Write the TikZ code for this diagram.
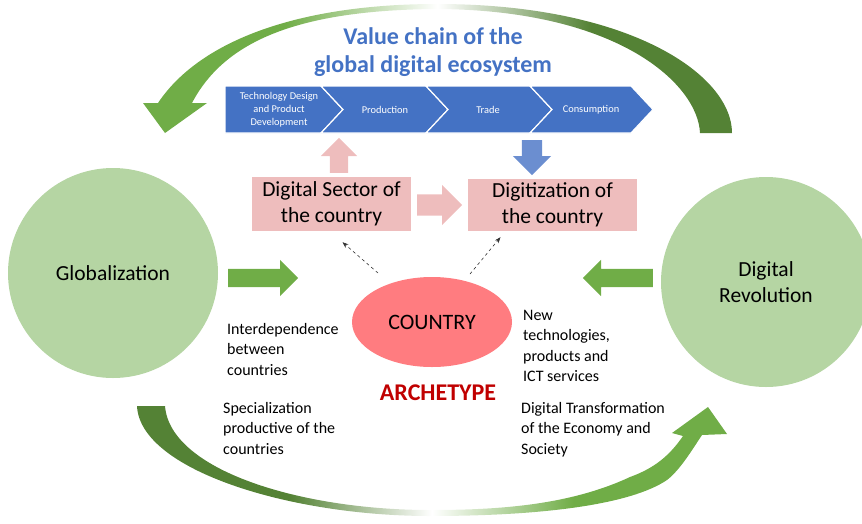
\documentclass[tikz,border=0pt]{standalone}
\usepackage{fontspec}
\setmainfont{Carlito}
\usetikzlibrary{arrows.meta,shapes.arrows,shapes.geometric,positioning}

\definecolor{chainblue}{HTML}{4472C4}
\definecolor{downblue}{HTML}{6B8ED0}
\definecolor{boxpink}{HTML}{EEBDBD}
\definecolor{circgreen}{HTML}{B5D5A3}
\definecolor{arrgreen}{HTML}{70AD47}
\definecolor{darkgreen}{HTML}{548235}
\definecolor{salmon}{HTML}{FF7C80}
\definecolor{archred}{HTML}{C00000}

\pgfdeclarehorizontalshading{topbend}{100bp}{color(0bp)=(arrgreen); color(37bp)=(arrgreen); color(50bp)=(white); color(63bp)=(darkgreen); color(100bp)=(darkgreen)}
\pgfdeclarehorizontalshading{botbend}{100bp}{color(0bp)=(darkgreen); color(38bp)=(darkgreen); color(50bp)=(white); color(62bp)=(arrgreen); color(100bp)=(arrgreen)}

\tikzset{
  bigcirc/.style={circle, fill=circgreen, minimum size=210pt, inner sep=0pt, align=center, font=\fontsize{21.5}{26}\selectfont},
  pinkbox/.style={rectangle, fill=boxpink, inner sep=0pt, align=center, font=\fontsize{21.5}{26}\selectfont},
  chevtext/.style={text=white, align=center, inner sep=0pt, font=\fontsize{10.4}{13}\selectfont},
  note/.style={align=left, inner sep=0pt, anchor=base west, font=\fontsize{16}{20.5}\selectfont},
  blockarr/.style={single arrow, anchor=tail, inner xsep=0pt, inner ysep=9pt, text height=0pt, text depth=0pt, single arrow head extend=9pt, minimum height=70pt},
  dasharr/.style={-{Stealth[length=6pt,width=4.5pt]}, dashed, line width=0.6pt, black!80},
}

\begin{document}
\begin{tikzpicture}[x=1pt,y=-1pt]
  \useasboundingbox (0,0) rectangle (862,523);

  % curved arrows
  \shade[shading=topbend] (700,133) -- (732,133)
    .. controls (732,75) and (630,4) .. (437,4)
    .. controls (300,4) and (200,40) .. (158,103)
    -- (143,103) -- (165,133) -- (207,103) -- (192,103)
    .. controls (225,40) and (300,10) .. (437,9)
    .. controls (620,10) and (698,85) .. (700,133) -- cycle;
  \shade[shading=botbend] (137,406)
    .. controls (140,470) and (290,516) .. (430,516)
    .. controls (540,516) and (630,505) .. (667,480)
    .. controls (680,470) and (692,450) .. (702,435)
    -- (727,434) -- (708,407) -- (672,433) -- (683,436)
    .. controls (670,455) and (655,468) .. (630,477)
    .. controls (570,505) and (500,510) .. (430,510)
    .. controls (300,510) and (170,470) .. (165,406) -- cycle;

  \node[font=\bfseries\fontsize{24}{28}\selectfont, text=chainblue, align=center] (title) at (433,52) {Value chain of the\\global digital ecosystem};

  % value chain
  \fill[chainblue, draw=white, line width=1.2pt] (225,86) -- (321,86) -- (343,109.5) -- (321,133) -- (225,133) -- cycle;
  \foreach \xa/\xb in {321/426, 426/530, 530/631}
    \fill[chainblue, draw=white, line width=1.2pt] (\xa,86) -- (\xb,86) -- (\xb+22,109.5) -- (\xb,133) -- (\xa,133) -- (\xa+22,109.5) -- cycle;
  \node[chevtext] (design) at (279,109.5) {Technology Design\\and Product\\Development};
  \node[chevtext] (prod) at (385,109.5) {Production};
  \node[chevtext] (trade) at (488,109.5) {Trade};
  \node[chevtext] (cons) at (591,109.5) {Consumption};

  \node[bigcirc] (glob) at (113,273) {Globalization};
  \node[bigcirc] (digrev) at (766,282) {Digital\\Revolution};

  \node[pinkbox, minimum width=159pt, minimum height=54pt] (sector) at (331.5,204) {Digital Sector of\\the country};
  \node[pinkbox, minimum width=169pt, minimum height=52pt] (digit) at (552.5,205) {Digitization of\\the country};

  \node[blockarr, fill=boxpink, minimum height=35pt, rotate=90] (uparr) at (339,173) {};
  \node[blockarr, fill=downblue, minimum height=35pt, inner ysep=10pt, rotate=-90] (downarr) at (532,140) {};
  \node[blockarr, fill=boxpink, minimum height=45pt, inner ysep=10.5pt, single arrow head extend=9.5pt] (midarr) at (417,205) {};
  \node[blockarr, fill=arrgreen] (globarr) at (228,278) {};
  \node[blockarr, fill=arrgreen, rotate=180] (revarr) at (653,278) {};

  \node[ellipse, fill=salmon, minimum width=160pt, minimum height=90pt, font=\fontsize{22}{26}\selectfont] (country) at (432,322) {COUNTRY};
  \node[font=\bfseries\fontsize{24}{28}\selectfont, text=archred] (arch) at (438,393) {ARCHETYPE};

  \draw[dasharr] ([shift={(-54,-49)}]country.center) -- ([shift={(11,11)}]sector.south);
  \draw[dasharr] ([shift={(38,-48)}]country.center) -- ([shift={(-52,6)}]digit.south);

  \node[note] (interdep) at (227,375) {Interdependence\\between\\countries};
  \node[note] (special) at (223,454) {Specialization\\productive of the\\countries};
  \node[note] (newtech) at (523,381.5) {New\\technologies,\\products and\\ICT services};
  \node[note] (digtrans) at (521,454) {Digital Transformation\\of the Economy and\\Society};
\end{tikzpicture}
\end{document}
